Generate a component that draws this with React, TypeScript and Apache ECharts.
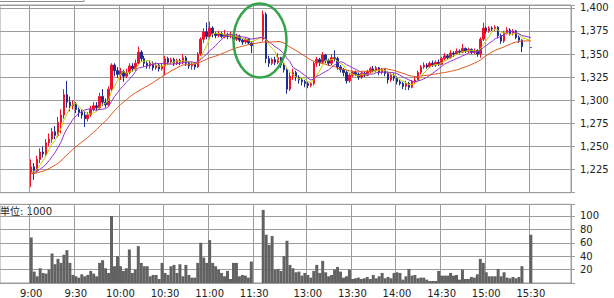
import React, { useEffect, useRef } from "react";
import * as echarts from "echarts";

// Tick labels on the time axis
const xTickLabels = ["9:00", "9:30", "10:00", "10:30", "11:00", "11:30", "13:00", "13:30", "14:00", "14:30", "15:00", "15:30"];

// 2-minute candles, [open, close, low, high]; 9:00 .. 11:30
const morningOHLC: (number[] | null)[] = [
  [1222, 1228, 1206, 1236], [1228, 1224, 1214, 1232], [1224, 1236, 1222, 1240], [1236, 1244, 1232, 1248],
  [1244, 1242, 1238, 1250], [1242, 1254, 1240, 1258], [1254, 1258, 1250, 1264], [1258, 1266, 1254, 1270],
  [1266, 1262, 1258, 1272], [1262, 1276, 1260, 1282], [1276, 1284, 1264, 1290], [1284, 1306, 1280, 1312],
  [1306, 1298, 1292, 1321], [1298, 1294, 1288, 1304], [1294, 1296, 1290, 1300], [1296, 1290, 1286, 1298],
  [1290, 1287, 1282, 1292], [1287, 1284, 1280, 1290], [1284, 1280, 1271, 1288], [1280, 1284, 1277, 1287],
  [1284, 1290, 1282, 1294], [1290, 1294, 1288, 1298], [1294, 1292, 1289, 1298], [1292, 1304, 1290, 1308],
  [1304, 1298, 1294, 1312], [1298, 1295, 1292, 1302], [1295, 1312, 1293, 1315], [1312, 1338, 1310, 1340],
  [1338, 1332, 1326, 1340], [1332, 1328, 1324, 1336], [1328, 1331, 1322, 1335], [1331, 1326, 1320, 1333],
  [1326, 1330, 1324, 1334], [1330, 1337, 1328, 1340], [1337, 1334, 1331, 1340], [1334, 1340, 1332, 1344],
  [1340, 1352, 1338, 1358], [1352, 1345, 1342, 1354], [1345, 1340, 1336, 1348], [1340, 1337, 1334, 1342],
  [1337, 1340, 1334, 1343], [1340, 1335, 1332, 1342], [1335, 1338, 1333, 1341], [1338, 1334, 1331, 1340],
  [1334, 1337, 1332, 1340], [1337, 1345, 1327, 1348], [1345, 1341, 1338, 1347], [1341, 1344, 1339, 1346],
  [1344, 1340, 1337, 1346], [1340, 1343, 1338, 1345], [1343, 1341, 1338, 1345], [1341, 1346, 1339, 1350],
  [1346, 1340, 1337, 1348], [1340, 1337, 1334, 1342], [1337, 1339, 1333, 1341], [1339, 1336, 1333, 1341],
  [1336, 1350, 1335, 1352], [1350, 1366, 1348, 1368], [1366, 1374, 1362, 1378], [1374, 1369, 1366, 1384],
  [1369, 1378, 1366, 1385], [1378, 1372, 1368, 1380], [1372, 1370, 1367, 1374], [1370, 1372, 1368, 1375],
  [1372, 1369, 1367, 1374], [1369, 1371, 1367, 1376], [1371, 1369, 1366, 1373], [1369, 1371, 1367, 1374],
  [1371, 1366, 1362, 1373], [1366, 1369, 1364, 1372], [1369, 1365, 1363, 1371], [1365, 1363, 1360, 1367],
  [1363, 1366, 1361, 1368], [1366, 1362, 1360, 1367], [1362, 1359, 1351, 1364], null,
];

// 12:30 .. 15:30
const afternoonOHLC: (number[] | null)[] = [
  [1366, 1393, 1364, 1397], [1393, 1345, 1340, 1395], [1345, 1340, 1336, 1348], [1340, 1344, 1338, 1346],
  [1344, 1341, 1338, 1347], [1341, 1346, 1339, 1351], [1346, 1338, 1335, 1347], [1338, 1333, 1330, 1340],
  [1333, 1312, 1307, 1335], [1312, 1326, 1310, 1330], [1326, 1330, 1322, 1334], [1330, 1325, 1321, 1332],
  [1325, 1322, 1318, 1327], [1322, 1320, 1316, 1324], [1320, 1318, 1314, 1322], [1318, 1316, 1313, 1320],
  [1316, 1318, 1314, 1320], [1318, 1340, 1316, 1342], [1340, 1344, 1336, 1347], [1344, 1341, 1337, 1346],
  [1341, 1349, 1340, 1352], [1349, 1343, 1340, 1350], [1343, 1340, 1337, 1345], [1340, 1346, 1338, 1350],
  [1346, 1345, 1342, 1354], [1345, 1336, 1333, 1347], [1336, 1333, 1330, 1338], [1333, 1330, 1326, 1335],
  [1330, 1321, 1318, 1332], [1321, 1327, 1319, 1329], [1327, 1330, 1325, 1332], [1330, 1328, 1326, 1332],
  [1328, 1325, 1322, 1330], [1325, 1329, 1323, 1331], [1329, 1327, 1325, 1331], [1327, 1331, 1326, 1333],
  [1331, 1334, 1329, 1336], [1334, 1332, 1330, 1337], [1332, 1335, 1330, 1337], [1335, 1330, 1327, 1336],
  [1330, 1333, 1328, 1335], [1333, 1329, 1326, 1334], [1329, 1322, 1318, 1331], [1322, 1327, 1320, 1329],
  [1327, 1324, 1321, 1329], [1324, 1320, 1317, 1326], [1320, 1318, 1316, 1322], [1318, 1315, 1312, 1320],
  [1315, 1318, 1311, 1321], [1318, 1314, 1311, 1320], [1314, 1320, 1313, 1322], [1320, 1322, 1318, 1325],
  [1322, 1330, 1321, 1332], [1330, 1336, 1328, 1338], [1336, 1338, 1334, 1341], [1338, 1336, 1334, 1340],
  [1336, 1340, 1335, 1342], [1340, 1338, 1336, 1343], [1338, 1341, 1336, 1343], [1341, 1339, 1337, 1344],
  [1339, 1345, 1338, 1347], [1345, 1348, 1343, 1351], [1348, 1346, 1344, 1350], [1346, 1351, 1345, 1354],
  [1351, 1350, 1347, 1353], [1350, 1353, 1349, 1356], [1353, 1352, 1350, 1355], [1352, 1356, 1351, 1361],
  [1356, 1353, 1351, 1357], [1353, 1355, 1351, 1357], [1355, 1352, 1350, 1356], [1352, 1354, 1350, 1356],
  [1354, 1350, 1347, 1355], [1350, 1366, 1346, 1368], [1366, 1378, 1364, 1384], [1378, 1375, 1372, 1380],
  [1375, 1378, 1373, 1380], [1378, 1377, 1375, 1380], [1377, 1379, 1375, 1381], [1379, 1370, 1367, 1380],
  [1370, 1364, 1361, 1372], [1364, 1373, 1362, 1375], [1373, 1376, 1371, 1379], [1376, 1372, 1370, 1378],
  [1372, 1375, 1370, 1377], [1375, 1368, 1366, 1376], [1368, 1365, 1362, 1370], [1365, 1358, 1352, 1366],
  null, null, [1357, 1357, 1357, 1357],
];

// Volume (thousand shares) per 2-minute slot
const morningVolume: (number | null)[] = [
  68, 17, 10, 22, 15, 14, 20, 44, 28, 36, 30, 42, 49, 30, 12,
  10, 8, 13, 10, 12, 18, 14, 10, 30, 34, 22, 15, 100, 25, 40,
  25, 18, 22, 50, 15, 20, 55, 30, 25, 25, 10, 12, 12, 6, 30,
  15, 12, 25, 27, 15, 28, 10, 27, 12, 8, 8, 30, 60, 38, 30,
  64, 30, 25, 20, 15, 10, 18, 6, 30, 30, 10, 12, 11, 8, 32,
  null,
];
const afternoonVolume: (number | null)[] = [
  109, 72, 57, 70, 20, 21, 18, 40, 63, 27, 22, 16, 17, 11, 15,
  12, 8, 18, 27, 15, 33, 16, 10, 12, 20, 24, 17, 8, 10, 20,
  6, 7, 8, 6, 7, 9, 6, 12, 7, 10, 15, 7, 9, 7, 15,
  16, 15, 5, 10, 21, 11, 12, 7, 8, 8, 5, 3, 3, 3, 18,
  11, 11, 11, 15, 11, 12, 5, 20, 6, 6, 9, 8, 13, 36, 30,
  16, 10, 10, 10, 21, 10, 16, 8, 7, 9, 7, 9, 25, null, null,
  72,
];

// Closes of the previous session that the moving averages still include at the open
const prevSessionCloses = [
  1218, 1220, 1221, 1219, 1222, 1220, 1221, 1219, 1220, 1222, 1221, 1220,
  1219, 1221, 1220, 1222, 1220, 1219, 1221, 1220, 1222, 1221, 1220, 1219,
];

const maPeriods = [5, 10, 25];
const maColors = ["#c2d100", "#9a2fd0", "#e0561c"];

const GRID = "#9c9c9c";
const FONT = "DejaVu Sans, Verdana, sans-serif";

function timeList(startMin: number, count: number): string[] {
  return Array.from({ length: count }, (_, i) => {
    const m = startMin + 2 * i;
    return `${Math.floor(m / 60)}:${String(m % 60).padStart(2, "0")}`;
  });
}

const PRE = 10;
const GAP = 2;
const POST = 13;
const categories = [
  ...timeList(8 * 60 + 40, PRE),
  ...timeList(9 * 60, morningOHLC.length),
  "11:45", "12:15",
  ...timeList(12 * 60 + 30, afternoonOHLC.length),
  ...timeList(15 * 60 + 32, POST),
];

const nulls = (n: number) => Array.from({ length: n }, () => null);
const allOHLC: (number[] | null)[] = [...nulls(PRE), ...morningOHLC, ...nulls(GAP), ...afternoonOHLC, ...nulls(POST)];
const allVolume: (number | null)[] = [...nulls(PRE), ...morningVolume, ...nulls(GAP), ...afternoonVolume, ...nulls(POST)];

function movingAverage(period: number): (number | null)[] {
  const closes = [...prevSessionCloses];
  return allOHLC.map((c) => {
    if (!c) return null;
    closes.push(c[1]);
    const w = closes.slice(-period);
    return +(w.reduce((a, b) => a + b, 0) / w.length).toFixed(2);
  });
}

const tickSet = new Set(xTickLabels);

export default function App() {
  const ref = useRef<HTMLDivElement>(null);
  useEffect(() => {
    if (!ref.current) return;
    const chart = echarts.init(ref.current, undefined, { renderer: "svg" });
    const xCommon = {
      type: "category" as const,
      data: categories,
      boundaryGap: true,
      axisLine: { show: false },
      axisTick: { show: false },
      splitLine: {
        show: true,
        interval: (_i: number, v: string) => tickSet.has(v),
        lineStyle: { color: GRID, width: 1 },
      },
    };
    chart.setOption({
      animation: false,
      backgroundColor: "#ffffff",
      grid: [
        { left: -2, top: 5, width: 573, height: 187.7, show: true, borderColor: GRID, borderWidth: 1 },
        { left: -2, top: 204.3, width: 573, height: 79, show: true, borderColor: GRID, borderWidth: 1 },
      ],
      xAxis: [
        { ...xCommon, gridIndex: 0, axisLabel: { show: false } },
        {
          ...xCommon,
          gridIndex: 1,
          axisLabel: {
            show: true,
            interval: (_i: number, v: string) => tickSet.has(v),
            fontSize: 10,
            fontFamily: FONT,
            color: "#222",
            margin: 5,
          },
        },
      ],
      yAxis: [
        {
          type: "value",
          gridIndex: 0,
          position: "right",
          min: 1200,
          max: 1403,
          interval: 25,
          axisLine: { show: false },
          axisTick: { show: true, length: 4, lineStyle: { color: GRID } },
          splitLine: { show: true, lineStyle: { color: GRID, width: 1 } },
          axisLabel: {
            margin: 9,
            fontSize: 10,
            fontFamily: FONT,
            color: "#222",
            formatter: (v: number) => (v % 25 === 0 && v > 1200 && v <= 1400 ? v.toLocaleString("en-US") : ""),
          },
        },
        {
          type: "value",
          gridIndex: 1,
          position: "right",
          min: 0,
          max: 117.4,
          interval: 20,
          axisLine: { show: false },
          axisTick: { show: true, length: 4, lineStyle: { color: GRID } },
          splitLine: { show: true, lineStyle: { color: GRID, width: 1 } },
          axisLabel: {
            margin: 9,
            fontSize: 10,
            fontFamily: FONT,
            color: "#222",
            formatter: (v: number) => (v > 0 && v % 20 === 0 && v <= 100 ? String(v) : ""),
          },
        },
      ],
      series: [
        {
          type: "candlestick",
          xAxisIndex: 0,
          yAxisIndex: 0,
          barWidth: 2,
          data: allOHLC.map((c) => (c ? c : ["-", "-", "-", "-"])),
          itemStyle: {
            color: "#f0102c",
            color0: "#1b2d8f",
            borderColor: "#f0102c",
            borderColor0: "#1b2d8f",
            borderWidth: 1,
          },
        },
        ...maPeriods.map((p, k) => ({
          type: "line",
          xAxisIndex: 0,
          yAxisIndex: 0,
          data: movingAverage(p),
          showSymbol: false,
          symbol: "none",
          connectNulls: true,
          lineStyle: { color: maColors[k], width: 1 },
          z: 3,
        })),
        {
          type: "bar",
          xAxisIndex: 1,
          yAxisIndex: 1,
          barCategoryGap: "0%",
          data: allVolume,
          itemStyle: { color: "#626262" },
        },
      ],
      graphic: [
        {
          type: "rect",
          shape: { x: -2, y: -10, width: 86, height: 11.5 },
          style: { fill: "none", stroke: "#8c8c8c", lineWidth: 1 },
        },
        {
          type: "text",
          x: 0,
          y: 206,
          style: {
            text: "単位: 1000",
            fill: "#222",
            fontSize: 10,
            fontFamily: "DejaVu Sans, Noto Sans CJK JP, sans-serif",
          },
        },
        {
          type: "ellipse",
          shape: { cx: 260, cy: 40.5, rx: 26.5, ry: 37 },
          style: { fill: "none", stroke: "#34a34a", lineWidth: 2.5 },
          z: 10,
        },
      ],
    });
    return () => chart.dispose();
  }, []);
  return <div ref={ref} style={{ width: 614, height: 298, position: "absolute", left: 0, top: 0 }} />;
}
